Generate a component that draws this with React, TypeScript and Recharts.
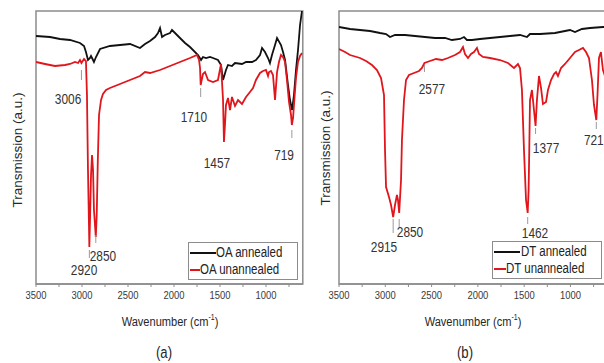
import React from 'react';
import {
  LineChart,
  Line,
  XAxis,
  YAxis,
  ReferenceArea,
  ReferenceLine,
  ReferenceDot,
  Legend,
  Label,
} from 'recharts';

const FONT = "'Liberation Sans', Arial, sans-serif";
const NARROW = 0.82;
const GRAY = '#8c8c8c';
const BLACK = '#111111';
const RED = '#e0161c';

// shared axis ticks (wavenumber, cm-1)
const xTicks = [3500, 3250, 3000, 2750, 2500, 2250, 2000, 1750, 1500, 1250, 1000, 750];

// ---------- Panel (a): OA ----------
const oaAnnealedWn = [3500, 3348, 3239, 3130, 3022, 2978, 2957, 2935, 2913, 2902, 2880, 2870, 2848, 2804, 2696, 2587, 2478, 2370, 2315, 2261, 2206, 2174, 2152, 2130, 2098, 2043, 2022, 1989, 1935, 1880, 1826, 1739, 1706, 1685, 1652, 1609, 1576, 1522, 1489, 1467, 1435, 1413, 1370, 1337, 1261, 1217, 1152, 1109, 1065, 1043, 1011, 978, 957, 935, 902, 880, 837, 815, 793, 761, 739, 717, 696, 674, 652, 630, 609];
const oaAnnealedT = [24.8, 24.7, 24.5, 24.4, 24.1, 23.8, 23.2, 22.4, 22.6, 22.8, 22.4, 22.2, 22.7, 23.5, 23.8, 23.9, 24.0, 23.6, 24.0, 24.3, 24.7, 25.1, 25.6, 24.7, 24.9, 25.1, 25.4, 25.1, 24.6, 24.1, 23.7, 22.9, 22.4, 22.7, 22.6, 22.7, 22.6, 22.4, 21.9, 20.4, 21.4, 21.9, 21.8, 22.1, 22.0, 22.2, 22.2, 22.4, 22.9, 23.6, 23.2, 22.6, 22.1, 22.9, 23.9, 24.6, 23.9, 23.2, 22.4, 19.9, 18.4, 17.4, 18.9, 21.4, 23.4, 25.9, 27.3];

const oaUnannealedWn = [3500, 3402, 3294, 3185, 3130, 3076, 3043, 3022, 3006, 2978, 2957, 2946, 2935, 2920, 2913, 2902, 2891, 2880, 2870, 2850, 2840, 2828, 2815, 2793, 2772, 2739, 2696, 2587, 2478, 2370, 2315, 2261, 2152, 2043, 1935, 1826, 1750, 1728, 1717, 1710, 1685, 1663, 1630, 1576, 1522, 1489, 1467, 1457, 1446, 1435, 1413, 1391, 1370, 1337, 1304, 1261, 1217, 1174, 1141, 1109, 1065, 1033, 1000, 978, 967, 946, 924, 902, 880, 859, 837, 815, 793, 772, 750, 728, 719, 706, 696, 674, 652, 630, 609];
const oaUnannealedT = [22.2, 22.0, 21.8, 21.9, 22.0, 22.2, 22.1, 22.4, 22.1, 22.5, 22.3, 18.9, 11.4, 3.7, 6.4, 10.9, 12.9, 11.4, 7.4, 4.7, 6.9, 12.4, 16.9, 18.4, 19.0, 19.4, 19.6, 20.0, 20.4, 20.8, 21.2, 21.1, 21.4, 21.8, 22.2, 22.6, 22.9, 22.4, 21.6, 19.9, 21.0, 21.2, 20.4, 20.2, 20.4, 22.0, 18.4, 14.2, 15.9, 17.9, 18.6, 17.4, 18.7, 17.8, 18.4, 18.0, 18.7, 19.2, 19.6, 20.4, 21.1, 21.3, 21.4, 20.8, 21.2, 21.3, 20.9, 18.4, 21.2, 22.2, 22.9, 22.7, 22.2, 20.4, 18.2, 16.9, 15.9, 16.6, 17.9, 20.6, 22.2, 22.8, 23.1];

const oaYTicks = [5.6, 17.1];
const oaPeaks = [3006, 1710, 1457, 719, 2850, 2920];

// ---------- Panel (b): DT ----------
const dtAnnealedWn = [3500, 3381, 3273, 3165, 3057, 2992, 2949, 2895, 2787, 2679, 2571, 2463, 2355, 2280, 2193, 2150, 2118, 2064, 1977, 1869, 1761, 1653, 1545, 1470, 1437, 1329, 1167, 1059, 1005, 951, 876, 789, 649, 600];
const dtAnnealedT = [25.7, 25.5, 25.4, 25.3, 25.1, 25.0, 24.7, 24.9, 24.9, 24.8, 24.7, 24.6, 24.6, 24.4, 24.5, 24.7, 24.4, 24.4, 24.5, 24.6, 24.7, 24.8, 24.9, 24.7, 25.0, 25.0, 25.1, 25.3, 25.4, 25.2, 25.5, 25.6, 25.7, 25.7];

const dtUnannealedWn = [3500, 3435, 3381, 3273, 3208, 3144, 3090, 3046, 3014, 3003, 2992, 2960, 2938, 2915, 2895, 2874, 2863, 2850, 2830, 2820, 2798, 2776, 2744, 2690, 2636, 2604, 2577, 2517, 2452, 2388, 2323, 2247, 2193, 2161, 2139, 2107, 2074, 2042, 2010, 1988, 1945, 1869, 1761, 1675, 1610, 1567, 1545, 1524, 1502, 1480, 1462, 1452, 1445, 1437, 1416, 1405, 1377, 1362, 1340, 1318, 1297, 1264, 1243, 1210, 1178, 1156, 1135, 1102, 1059, 1005, 951, 908, 865, 832, 800, 768, 746, 721, 708, 692, 671, 649, 600];
const dtUnannealedT = [23.5, 23.2, 22.9, 22.6, 22.3, 21.9, 21.4, 20.6, 18.9, 13.4, 9.7, 8.7, 7.9, 6.7, 7.9, 8.9, 8.4, 7.1, 10.4, 14.4, 18.4, 20.4, 20.9, 21.1, 21.3, 21.6, 22.1, 22.3, 22.5, 22.4, 22.6, 22.9, 23.2, 23.7, 23.0, 22.6, 23.0, 23.2, 23.6, 23.0, 22.7, 22.6, 22.4, 22.1, 21.6, 22.0, 21.6, 19.4, 13.4, 8.4, 7.1, 9.4, 13.4, 18.4, 19.4, 18.4, 15.8, 18.4, 20.8, 19.6, 18.0, 18.2, 19.4, 20.4, 21.0, 21.2, 20.8, 21.6, 22.0, 22.6, 23.2, 23.4, 23.6, 23.2, 22.6, 20.4, 17.9, 16.4, 18.9, 22.6, 23.2, 21.4, 20.0];

const dtYTicks = [1.4, 15.1];
const dtPeaks = [2577, 1377, 721, 2915, 2850, 1462];

// annotation placement (layout only): tick segment [from, to] and label anchor [wn, value]
type PeakLayout = { tick: [number, number] | null; at: [number, number] };
const oaPeakLayout: PeakLayout[] = [
  { tick: [21.4, 20.4], at: [3152, 18.5] },
  { tick: [19.6, 18.7], at: [1783, 16.7] },
  { tick: null, at: [1533, 12.1] },
  { tick: [15.4, 14.6], at: [804, 12.9] },
  { tick: [4.9, 4.1], at: [2772, 2.8] },
  { tick: [3.4, 2.6], at: [2978, 1.4] },
];
const dtPeakLayout: PeakLayout[] = [
  { tick: [21.9, 21.2], at: [2496, 19.5] },
  { tick: [15.6, 15.0], at: [1264, 13.6] },
  { tick: [16.2, 15.5], at: [748, 14.4] },
  { tick: [6.5, 5.1], at: [3014, 3.7] },
  { tick: [6.5, 5.6], at: [2733, 5.2] },
  { tick: [6.7, 6.0], at: [1383, 5.1] },
];

const toPoints = (wn: number[], t: number[]) => wn.map((w, i) => ({ wn: w, t: t[i] }));

// horizontally condensed text (the reference uses a narrow sans face)
const NText = ({
  x,
  y,
  size,
  children,
  anchor = 'middle',
  fill = '#2a2a2a',
}: {
  x: number;
  y: number;
  size: number;
  children: React.ReactNode;
  anchor?: string;
  fill?: string;
}) => (
  <text
    transform={`translate(${x} ${y}) scale(${NARROW} 1)`}
    x={0}
    y={0}
    textAnchor={anchor as any}
    dominantBaseline="central"
    fontSize={size}
    fontFamily={FONT}
    fill={fill}
  >
    {children}
  </text>
);

const XTick = (props: any) => {
  const { x, y, payload } = props;
  if (payload.value % 500 !== 0) return <g />;
  return (
    <NText x={x} y={y + 6} size={11.5} fill="#3a3a3a">
      {payload.value}
    </NText>
  );
};
const EmptyTick = () => <g />;

const peakLabel = (text: string) => (props: any) => {
  const vb = props.viewBox || {};
  const cx = (vb.x || 0) + (vb.width || 0) / 2;
  const cy = (vb.y || 0) + (vb.height || 0) / 2;
  return (
    <NText x={cx} y={cy} size={14.5} fill="#333">
      {text}
    </NText>
  );
};

const makeLegend = (width: number) => (props: any) => (
  <div
    style={{
      width,
      height: 38,
      border: `1px solid ${GRAY}`,
      background: '#fff',
      boxSizing: 'border-box',
      paddingTop: 1,
    }}
  >
    {(props.payload || []).map((e: any) => (
      <div key={e.value} style={{ display: 'flex', alignItems: 'center', height: 17 }}>
        <svg width={28} height={4} style={{ display: 'block' }}>
          <line x1={1} y1={2} x2={27} y2={2} stroke={e.color} strokeWidth={2} />
        </svg>
        <span
          style={{
            fontFamily: FONT,
            fontSize: 14,
            color: '#222',
            lineHeight: '17px',
            whiteSpace: 'nowrap',
            display: 'inline-block',
            transform: `scaleX(${NARROW})`,
            transformOrigin: 'left center',
          }}
        >
          {e.value}
        </span>
      </div>
    ))}
  </div>
);

type PanelProps = {
  left: number;
  marginLeft: number;
  marginRight: number;
  annealed: { wn: number; t: number }[];
  unannealed: { wn: number; t: number }[];
  names: [string, string];
  yTicks: number[];
  peaks: number[];
  layout: PeakLayout[];
  yTitleX: number;
  yTitleY: number;
  xTitleX: number;
  caption: string;
  captionX: number;
  legendLeft: number;
  legendTop: number;
  legendWidth: number;
};

function Panel(p: PanelProps) {
  const texts = () => (
    <g>
      <text
        transform={`translate(${p.xTitleX} 322) scale(${NARROW} 1)`}
        x={0}
        y={0}
        textAnchor="middle"
        dominantBaseline="central"
        fontSize={13.5}
        fontFamily={FONT}
        fill="#262626"
      >
        Wavenumber (cm
        <tspan dy={-5} fontSize={8.5}>
          -1
        </tspan>
        <tspan dy={5}>)</tspan>
      </text>
      <NText x={p.captionX} y={353} size={16} fill="#262626">
        {p.caption}
      </NText>
      <text
        x={p.yTitleX}
        y={p.yTitleY}
        textAnchor="middle"
        dominantBaseline="central"
        fontSize={13.5}
        fontFamily={FONT}
        fill="#262626"
        transform={`rotate(-90 ${p.yTitleX} ${p.yTitleY})`}
      >
        Transmission (a.u.)
      </text>
    </g>
  );

  const annotations: React.ReactNode[] = [];
  p.peaks.forEach((pk, i) => {
    const l = p.layout[i];
    if (l.tick) {
      annotations.push(
        <ReferenceLine
          key={`t${i}`}
          segment={[
            { x: pk, y: l.tick[0] },
            { x: pk, y: l.tick[1] },
          ]}
          stroke="#9a9a9a"
          strokeWidth={1}
        />
      );
    }
    annotations.push(
      <ReferenceDot
        key={`l${i}`}
        x={l.at[0]}
        y={l.at[1]}
        r={0}
        fill="none"
        stroke="none"
        label={peakLabel(String(pk))}
      />
    );
  });

  return (
    <div style={{ position: 'absolute', left: p.left, top: 0 }}>
      <LineChart
        width={310}
        height={363}
        margin={{ top: 11, right: p.marginRight, bottom: 0, left: p.marginLeft }}
      >
        <XAxis
          type="number"
          dataKey="wn"
          domain={[600, 3500]}
          reversed
          allowDataOverflow
          ticks={xTicks}
          interval={0}
          height={79}
          tickSize={3}
          tickMargin={2}
          tick={XTick}
          axisLine={{ stroke: GRAY, strokeWidth: 1.5 }}
          tickLine={{ stroke: GRAY }}
        >
          <Label content={texts} />
        </XAxis>
        <YAxis
          type="number"
          domain={[0, 27.3]}
          allowDataOverflow
          ticks={p.yTicks}
          width={0}
          tickSize={3}
          tick={EmptyTick}
          axisLine={{ stroke: GRAY, strokeWidth: 1.5 }}
          tickLine={{ stroke: GRAY }}
        />
        <ReferenceArea x1={600} x2={3500} y1={0} y2={27.3} fill="none" stroke={GRAY} strokeWidth={1.5} />
        <Line
          data={p.annealed}
          dataKey="t"
          name={p.names[0]}
          stroke={BLACK}
          strokeWidth={1.8}
          dot={false}
          activeDot={false}
          isAnimationActive={false}
        />
        <Line
          data={p.unannealed}
          dataKey="t"
          name={p.names[1]}
          stroke={RED}
          strokeWidth={1.8}
          dot={false}
          activeDot={false}
          isAnimationActive={false}
        />
        {annotations}
        <Legend
          layout="horizontal"
          verticalAlign="middle"
          align="center"
          content={makeLegend(p.legendWidth)}
          wrapperStyle={{ left: p.legendLeft, top: p.legendTop, width: p.legendWidth, height: 38 }}
        />
      </LineChart>
    </div>
  );
}

export default function App() {
  return (
    <div
      style={{
        position: 'absolute',
        left: 0,
        top: 0,
        width: 604,
        height: 363,
        overflow: 'hidden',
        background: '#fff',
      }}
    >
      <Panel
        left={0}
        marginLeft={36}
        marginRight={7.2}
        annealed={toPoints(oaAnnealedWn, oaAnnealedT)}
        unannealed={toPoints(oaUnannealedWn, oaUnannealedT)}
        names={['OA annealed', 'OA unannealed']}
        yTicks={oaYTicks}
        peaks={oaPeaks}
        layout={oaPeakLayout}
        yTitleX={17}
        yTitleY={150}
        xTitleX={170}
        caption="(a)"
        captionX={164}
        legendLeft={188}
        legendTop={242}
        legendWidth={110}
      />
      <Panel
        left={300}
        marginLeft={39}
        marginRight={2.5}
        annealed={toPoints(dtAnnealedWn, dtAnnealedT)}
        unannealed={toPoints(dtUnannealedWn, dtUnannealedT)}
        names={['DT annealed', 'DT unannealed']}
        yTicks={dtYTicks}
        peaks={dtPeaks}
        layout={dtPeakLayout}
        yTitleX={25}
        yTitleY={148}
        xTitleX={173}
        caption="(b)"
        captionX={165}
        legendLeft={192}
        legendTop={241}
        legendWidth={110}
      />
    </div>
  );
}
